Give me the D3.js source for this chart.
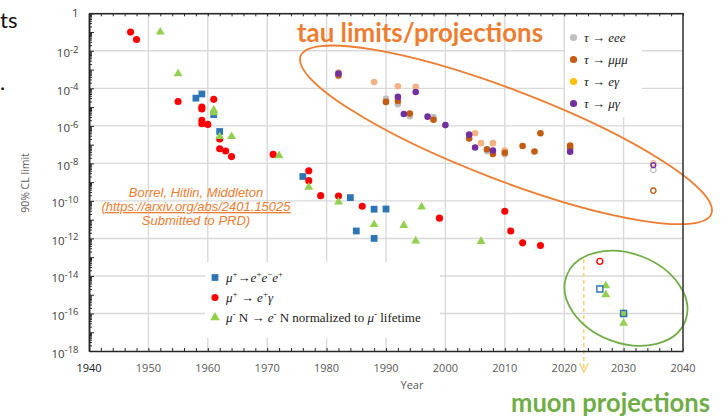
<!DOCTYPE html>
<html>
<head>
<meta charset="utf-8">
<script src="https://cdn.jsdelivr.net/npm/d3@7"></script>
<style>
  html, body { margin: 0; padding: 0; background: #fff; }
  svg { display: block; }
</style>
</head>
<body>
<svg id="chart" width="724" height="417"></svg>
<script>
// ---------- axis ticks ----------
const xTickLabels = [1940, 1950, 1960, 1970, 1980, 1990, 2000, 2010, 2020, 2030, 2040];
const yLabelExponents = [0, -2, -4, -6, -8, -10, -12, -14, -16, -18];

// ---------- muon results ----------
const muEeeYears  = [1958, 1959, 1961, 1962, 1976, 1984, 1985, 1988, 1988, 1990];
const muEeeLimits = [3e-5, 5e-5, 4e-6, 5e-7, 2e-9, 1.5e-10, 2.5e-12, 3.6e-11, 1e-12, 3.7e-11];

const muEgYears  = [1947, 1948, 1955, 1959, 1959, 1959, 1959, 1960, 1961, 1962, 1962, 1963, 1964, 1971, 1977, 1977, 1979, 1982, 1986, 1999, 2010, 2011, 2013, 2016];
const muEgLimits = [1e-1, 4e-2, 2e-5, 1e-5, 8e-6, 2e-6, 1.3e-6, 1.2e-6, 2.6e-5, 2e-7, 6e-8, 4.6e-8, 2.3e-8, 3e-8, 4e-9, 1.2e-9, 1.9e-10, 1.8e-10, 5.2e-11, 1.2e-11, 2.8e-11, 2.5e-12, 5.8e-13, 4.2e-13];

const muNYears  = [1952, 1955, 1961, 1961, 1962, 1964, 1972, 1977, 1982, 1988, 1993, 1995, 1996, 2006];
const muNLimits = [1e-1, 6e-4, 7e-6, 5e-6, 2.7e-7, 2.7e-7, 2.6e-8, 5.4e-10, 8.9e-11, 5.5e-12, 5e-12, 7.4e-13, 4.8e-11, 7e-13];

// muon projections
const muEgProjYears  = [2026];
const muEgProjLimits = [6e-14];
const muEeeProjYears  = [2026, 2030];
const muEeeProjLimits = [2e-15, 1e-16];
const muNProjYears  = [2027, 2027, 2030, 2030];
const muNProjLimits = [3e-15, 1e-15, 1e-16, 3e-17];

// ---------- tau results ----------
const tauEeeYears  = [1982, 1990, 1992, 1994, 1998, 2007, 2010];
const tauEeeLimits = [4.5e-4, 2.8e-5, 1.4e-5, 3.3e-6, 3e-6, 4.5e-8, 3.1e-8];

const tauMmmYears  = [1982, 1990, 1992, 1994, 1998, 2004, 2007, 2008, 2010, 2013, 2015, 2016, 2021, 2021];
const tauMmmLimits = [5e-4, 1.9e-5, 2.1e-5, 4.5e-6, 2.1e-6, 2.1e-7, 5.7e-8, 3.2e-8, 3.7e-8, 8.5e-8, 4.3e-8, 4e-7, 8.9e-8, 6.5e-8];

const tauEgYears  = [1982, 1988, 1992, 1995, 2005, 2006, 2008, 2010];
const tauEgLimits = [7e-4, 2.2e-4, 1.3e-4, 1.2e-4, 4e-7, 1.2e-7, 1.2e-7, 4.8e-8];

const tauMgYears  = [1982, 1992, 1993, 1995, 1997, 2000, 2004, 2005, 2008, 2021];
const tauMgLimits = [6.2e-4, 3.5e-5, 4.3e-6, 6.4e-5, 3.1e-6, 1.1e-6, 3.4e-7, 7e-8, 4.8e-8, 4.2e-8];

// tau projections
const tauProjYear = 2035;
const tauEgProj  = [1e-8];
const tauMgProj  = [8e-9];
const tauEeeProj = [4.5e-9];
const tauMmmProj = [3.5e-10];

// ---------- colours ----------
const C = {
  blue: '#2e75b6', red: '#ff0000', green: '#92d050',
  gray: '#bfbfbf', brown: '#c55a11', peach: '#f4b183', yellow: '#ffc000', purple: '#7030a0',
  orange: '#ed7d31', olive: '#70ad47', grid: '#d9d9d9', axis: '#262626', text: '#595959'
};

// ---------- layout ----------
const svg = d3.select('#chart');
const P = { left: 89, right: 683, top: 13.3, bottom: 351 };
const x = d3.scaleLinear().domain([1940, 2040]).range([P.left, P.right]);
const y = d3.scaleLog().domain([1e-18, 1]).range([P.bottom, P.top]);

// slide text at the left edge
svg.append('text').attr('x', 0).attr('y', 28)
  .attr('font-family', 'Lato, sans-serif').attr('font-size', 22).attr('fill', '#111').text('ts');
svg.append('text').attr('x', 0).attr('y', 90)
  .attr('font-family', 'Lato, sans-serif').attr('font-size', 22).attr('fill', '#111').text('.');

// ---------- grid ----------
const grid = svg.append('g');
grid.selectAll('line.v').data(d3.range(1950, 2031, 10)).join('line')
  .attr('x1', d => x(d)).attr('x2', d => x(d)).attr('y1', P.top).attr('y2', P.bottom)
  .attr('stroke', C.grid).attr('stroke-width', 1.4);
grid.selectAll('line.h').data(d3.range(0, -17, -2)).join('line')
  .attr('x1', P.left).attr('x2', P.right).attr('y1', d => y(Math.pow(10, d))).attr('y2', d => y(Math.pow(10, d)))
  .attr('stroke', C.grid).attr('stroke-width', 1.4);

// legend backgrounds
svg.append('rect').attr('x', 205).attr('y', 262).attr('width', 235).attr('height', 76).attr('fill', '#fff');
svg.append('rect').attr('x', 565).attr('y', 15).attr('width', 77).attr('height', 102).attr('fill', '#fff');

// ---------- annotations ----------
function ellipse(cx, cy, rx, ry, angle, color) {
  const px = x(cx), py = y(cy);
  svg.append('ellipse')
    .attr('cx', 0).attr('cy', 0).attr('rx', rx).attr('ry', ry)
    .attr('transform', `translate(${px},${py}) rotate(${angle})`)
    .attr('fill', 'none').attr('stroke', color).attr('stroke-width', 1.8);
}
ellipse(2010.2, Math.pow(10, -6.48), 220, 45, 21, C.orange);

// citation
const cite = svg.append('text').attr('text-anchor', 'middle')
  .attr('font-family', '"Liberation Sans", Arial, sans-serif').attr('font-style', 'italic')
  .attr('font-size', 13).attr('fill', C.orange);
cite.append('tspan').attr('x', 196).attr('y', 197).text('Borrel, Hitlin, Middleton');
cite.append('tspan').attr('x', 196).attr('y', 211).attr('text-decoration', 'underline').text('(https://arxiv.org/abs/2401.15025');
cite.append('tspan').attr('x', 196).attr('y', 224.5).text('Submitted to PRD)');

// "now" marker: dashed line with arrow head below the axis
const nowYear = 2023.3;
const nowTop = y(Math.pow(10, -13.1));
const arrowTip = P.bottom + 21;
svg.append('line').attr('x1', x(nowYear)).attr('x2', x(nowYear)).attr('y1', nowTop).attr('y2', arrowTip)
  .attr('stroke', '#fcd27a').attr('stroke-width', 1.5).attr('stroke-dasharray', '4,3');
svg.append('path')
  .attr('d', `M${x(nowYear) - 4.5},${arrowTip - 9} L${x(nowYear)},${arrowTip} L${x(nowYear) + 4.5},${arrowTip - 9}`)
  .attr('fill', 'none').attr('stroke', '#fcd27a').attr('stroke-width', 1.5);

// ---------- markers ----------
function series(years, vals, shape, size, color, open) {
  const sym = d3.symbol().type(shape).size(size);
  svg.append('g').selectAll('path').data(d3.zip(years, vals)).join('path')
    .attr('transform', d => `translate(${x(d[0])},${y(d[1])})`)
    .attr('d', sym)
    .attr('fill', open ? 'none' : color)
    .attr('stroke', open ? color : 'none')
    .attr('stroke-width', open ? 1.4 : 0);
}
const CIRC = d3.symbolCircle, SQ = d3.symbolSquare, TRI = d3.symbolTriangle;

// tau
series(tauEgYears, tauEgLimits, CIRC, 34, C.peach);
series(tauEeeYears, tauEeeLimits, CIRC, 34, C.gray);
series(tauMmmYears, tauMmmLimits, CIRC, 34, C.brown);
series(tauMgYears, tauMgLimits, CIRC, 34, C.purple);
series([tauProjYear], tauEgProj, CIRC, 24, C.peach, true);
series([tauProjYear], tauEeeProj, CIRC, 24, C.gray, true);
series([tauProjYear], tauMgProj, CIRC, 18, C.purple, true);
series([tauProjYear], tauMmmProj, CIRC, 22, C.brown, true);

// muon
series(muEeeYears, muEeeLimits, SQ, 46, C.blue);
series(muEgYears, muEgLimits, CIRC, 40, C.red);
series(muNYears, muNLimits, TRI, 34, C.green);
series(muNProjYears, muNProjLimits, TRI, 34, C.green);
series(muEeeProjYears, muEeeProjLimits, SQ, 36, C.blue, true);
series(muEgProjYears, muEgProjLimits, CIRC, 28, C.red, true);

ellipse(2030.4, Math.pow(10, -15.19), 63.5, 44.7, 20.8, C.olive);

// ---------- legends ----------
function rich(textSel, parts) {
  let raised = false;
  parts.forEach(([t, style]) => {
    const ts = textSel.append('tspan').text(t);
    if (style.includes('i')) ts.attr('font-style', 'italic');
    if (style.includes('s')) {
      ts.attr('font-size', 9);
      if (!raised) { ts.attr('dy', -5); raised = true; }
    } else if (raised) { ts.attr('dy', 5); raised = false; }
  });
}
const serif = '"Liberation Serif", "Times New Roman", serif';
const muLegend = [
  { shape: SQ, size: 46, color: C.blue, parts: [['μ', 'i'], ['+', 's'], ['→', ''], ['e', 'i'], ['+', 's'], ['e', 'i'], ['−', 's'], ['e', 'i'], ['+', 's']] },
  { shape: CIRC, size: 40, color: C.red, parts: [['μ', 'i'], ['+', 's'], [' → ', ''], ['e', 'i'], ['+', 's'], ['γ', 'i']] },
  { shape: TRI, size: 40, color: C.green, parts: [['μ', 'i'], ['-', 's'], [' N → ', ''], ['e', 'i'], ['-', 's'], [' N normalized to ', ''], ['μ', 'i'], ['-', 's'], [' lifetime', '']] }
];
muLegend.forEach((d, i) => {
  const cy = 277.5 + i * 20;
  svg.append('path').attr('transform', `translate(215,${cy})`)
    .attr('d', d3.symbol().type(d.shape).size(d.size)).attr('fill', d.color);
  const t = svg.append('text').attr('x', 226).attr('y', cy + 4.5)
    .attr('font-family', serif).attr('font-size', 13).attr('fill', '#222');
  rich(t, d.parts);
});

const tauLegend = [
  { color: C.gray, label: 'τ → eee' },
  { color: C.brown, label: 'τ → μμμ' },
  { color: C.yellow, label: 'τ → eγ' },
  { color: C.purple, label: 'τ → μγ' }
];
tauLegend.forEach((d, i) => {
  const cy = 37.5 + i * 22;
  svg.append('circle').attr('cx', 573.5).attr('cy', cy).attr('r', 3.6).attr('fill', d.color);
  svg.append('text').attr('x', 584).attr('y', cy + 4.5)
    .attr('font-family', serif).attr('font-style', 'italic').attr('font-size', 13).attr('fill', '#222')
    .text(d.label);
});

// ---------- axes ----------
const minorYears = d3.range(1940, 2041, 2);
const axB = svg.append('g').attr('transform', `translate(0,${P.bottom})`)
  .call(d3.axisBottom(x).tickValues(minorYears).tickSize(-3).tickSizeOuter(0).tickFormat(''));
const axT = svg.append('g').attr('transform', `translate(0,${P.top})`)
  .call(d3.axisTop(x).tickValues(minorYears).tickSize(-3).tickSizeOuter(0).tickFormat(''));

const decades = d3.range(-18, 1);
const minorVals = [];
d3.range(-18, 0).forEach(e => { for (let m = 2; m <= 9; m++) minorVals.push(m * Math.pow(10, e)); });
const axL = svg.append('g').attr('transform', `translate(${P.left},0)`)
  .call(d3.axisLeft(y).tickValues(minorVals).tickSize(-3).tickSizeOuter(0).tickFormat(''));
const axL2 = svg.append('g').attr('transform', `translate(${P.left},0)`)
  .call(d3.axisLeft(y).tickValues(decades.map(e => Math.pow(10, e))).tickSize(-5).tickSizeOuter(0).tickFormat(''));
[axB, axT, axL, axL2].forEach(g => {
  g.select('.domain').attr('stroke', C.axis).attr('stroke-width', 1.5);
  g.selectAll('.tick line').attr('stroke', C.axis).attr('stroke-width', 1);
});
svg.append('line').attr('x1', P.right).attr('x2', P.right).attr('y1', P.top).attr('y2', P.bottom)
  .attr('stroke', '#3a3a3a').attr('stroke-width', 1.6);

// x labels
svg.append('g').selectAll('text').data(xTickLabels).join('text')
  .attr('x', d => x(d)).attr('y', P.bottom + 21).attr('text-anchor', 'middle')
  .attr('font-family', '"Open Sans", sans-serif').attr('font-size', 11)
  .attr('fill', d => d === 1940 ? '#1a1a1a' : C.text)
  .text(d => d);

// y labels
const yl = svg.append('g').selectAll('text').data(yLabelExponents).join('text')
  .attr('x', 78.5).attr('text-anchor', 'end')
  .attr('font-family', '"Open Sans", sans-serif').attr('fill', '#404040')
  .attr('y', d => y(Math.pow(10, d)) + (d === 0 ? 4 : 6.5))
  .attr('font-size', 11.5);
yl.each(function (d) {
  const t = d3.select(this);
  if (d === 0) { t.text('1'); return; }
  t.append('tspan').text('10');
  t.append('tspan').attr('font-size', 9.5).attr('dy', -4.5).text(String(d));
});

svg.append('text').attr('transform', 'translate(29,183) rotate(-90)').attr('text-anchor', 'middle')
  .attr('font-family', '"Open Sans", sans-serif').attr('font-size', 10.5).attr('fill', C.text)
  .text('90% CL limit');
svg.append('text').attr('x', 412).attr('y', 389).attr('text-anchor', 'middle')
  .attr('font-family', '"Open Sans", sans-serif').attr('font-size', 11).attr('fill', C.text)
  .text('Year');

// headline annotations
svg.append('text').attr('x', 297).attr('y', 42)
  .attr('font-family', 'Lato, sans-serif').attr('font-weight', 'bold').attr('font-size', 26)
  .attr('textLength', 246).attr('lengthAdjust', 'spacingAndGlyphs')
  .attr('fill', C.orange).text('tau limits/projections');
svg.append('text').attr('x', 511).attr('y', 411.5)
  .attr('font-family', 'Lato, sans-serif').attr('font-weight', 'bold').attr('font-size', 26)
  .attr('textLength', 199).attr('lengthAdjust', 'spacingAndGlyphs')
  .attr('fill', C.olive).text('muon projections');
</script>
</body>
</html>
